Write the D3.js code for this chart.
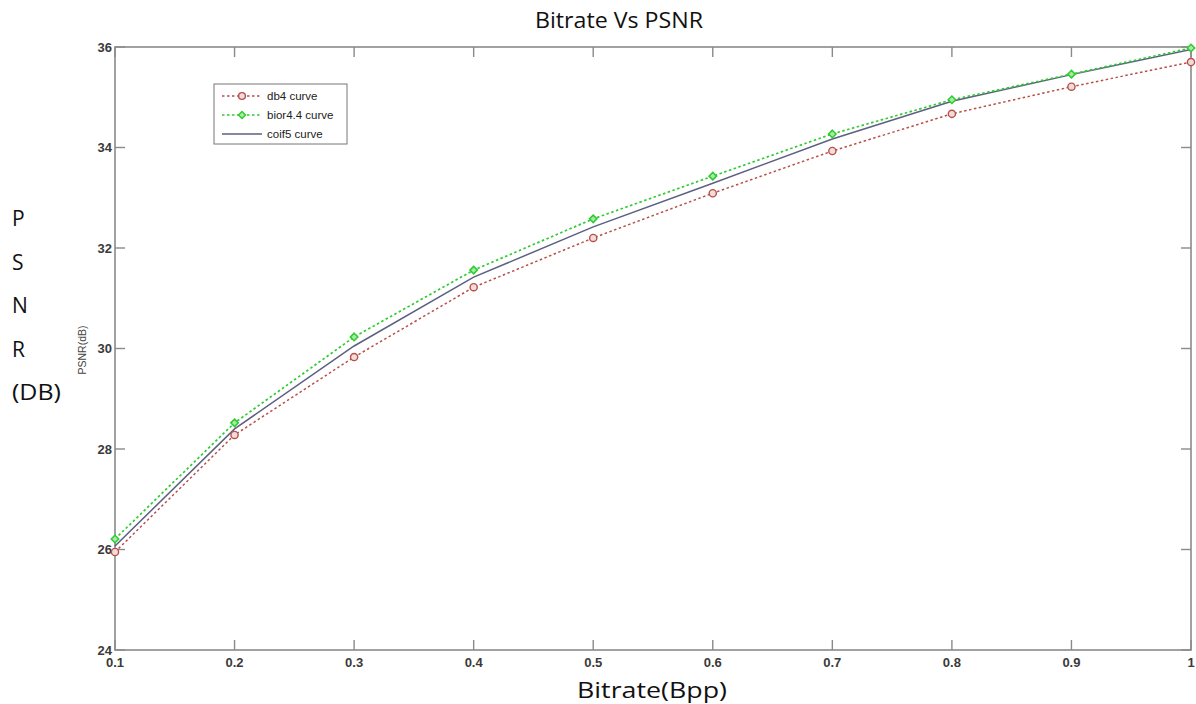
<!DOCTYPE html>
<html>
<head>
<meta charset="utf-8">
<script src="https://cdn.jsdelivr.net/npm/d3@7"></script>
<style>
  body { margin: 0; background: #fff; }
  svg { display: block; }
  .tick-label { font-family: "Liberation Sans", Arial, sans-serif; font-size: 13px; font-weight: bold; fill: #3a3a3a; }
  .big { font-family: "Open Sans", "Noto Sans", sans-serif; font-size: 21px; fill: #111; }
</style>
</head>
<body>
<div id="chart"></div>
<script>
// Bitrate vs PSNR for three wavelets
const bitrates = [0.1, 0.2, 0.3, 0.4, 0.5, 0.6, 0.7, 0.8, 0.9, 1.0];
const db4 = [25.95, 28.28, 29.83, 31.22, 32.2, 33.09, 33.93, 34.67, 35.21, 35.7];
const bior44 = [26.21, 28.52, 30.23, 31.56, 32.58, 33.43, 34.27, 34.95, 35.46, 35.98];
const coif5 = [26.07, 28.4, 30.05, 31.42, 32.42, 33.29, 34.17, 34.92, 35.45, 35.95];
const xTicks = [0.1, 0.2, 0.3, 0.4, 0.5, 0.6, 0.7, 0.8, 0.9, 1];
const yTicks = [24, 26, 28, 30, 32, 34, 36];
const seriesNames = ["db4 curve", "bior4.4 curve", "coif5 curve"];

const W = 1196, H = 704;
const plotLeft = 115, plotRight = 1191, plotTop = 47, plotBottom = 650;

const svg = d3.select("#chart").append("svg")
    .attr("width", W).attr("height", H);

const x = d3.scaleLinear().domain([0.1, 1]).range([plotLeft, plotRight]);
const y = d3.scaleLinear().domain([24, 36]).range([plotBottom, plotTop]);

const axisColor = "#8a8a8a";
const tickLen = 10;

// frame
svg.append("rect")
    .attr("x", plotLeft).attr("y", plotTop)
    .attr("width", plotRight - plotLeft).attr("height", plotBottom - plotTop)
    .attr("fill", "none").attr("stroke", axisColor).attr("stroke-width", 1.6);

// inward ticks on all four sides
xTicks.forEach(t => {
    svg.append("line").attr("x1", x(t)).attr("x2", x(t)).attr("y1", plotBottom).attr("y2", plotBottom - tickLen)
        .attr("stroke", axisColor).attr("stroke-width", 1.4);
    svg.append("line").attr("x1", x(t)).attr("x2", x(t)).attr("y1", plotTop).attr("y2", plotTop + tickLen)
        .attr("stroke", axisColor).attr("stroke-width", 1.4);
    svg.append("text").attr("class", "tick-label")
        .attr("x", x(t)).attr("y", plotBottom + 17)
        .attr("text-anchor", "middle")
        .text(t === 1 ? "1" : d3.format(".1f")(t));
});
yTicks.forEach(t => {
    svg.append("line").attr("x1", plotLeft).attr("x2", plotLeft + tickLen).attr("y1", y(t)).attr("y2", y(t))
        .attr("stroke", axisColor).attr("stroke-width", 1.4);
    svg.append("line").attr("x1", plotRight).attr("x2", plotRight - tickLen).attr("y1", y(t)).attr("y2", y(t))
        .attr("stroke", axisColor).attr("stroke-width", 1.4);
    svg.append("text").attr("class", "tick-label")
        .attr("x", plotLeft - 3).attr("y", y(t) + 4.5)
        .attr("text-anchor", "end")
        .text(t);
});

// lines
const line = d3.line().x((d, i) => x(bitrates[i])).y(d => y(d));

const redColor = "#b8504a";
const greenColor = "#2ecc2e";
const blueColor = "#5c5f80";

svg.append("path").datum(coif5).attr("d", line)
    .attr("fill", "none").attr("stroke", blueColor).attr("stroke-width", 1.5);
svg.append("path").datum(db4).attr("d", line)
    .attr("fill", "none").attr("stroke", redColor).attr("stroke-width", 1.5)
    .attr("stroke-dasharray", "2.5,2.5");
svg.append("path").datum(bior44).attr("d", line)
    .attr("fill", "none").attr("stroke", greenColor).attr("stroke-width", 1.7)
    .attr("stroke-dasharray", "2.5,2.5");

// markers
svg.selectAll(".m-red").data(db4).enter().append("circle")
    .attr("cx", (d, i) => x(bitrates[i])).attr("cy", d => y(d)).attr("r", 3.6)
    .attr("fill", "#f1dcda").attr("stroke", redColor).attr("stroke-width", 1.4);

const diamond = d3.symbol().type(d3.symbolDiamond2).size(36);
svg.selectAll(".m-green").data(bior44).enter().append("path")
    .attr("d", diamond)
    .attr("transform", (d, i) => `translate(${x(bitrates[i])},${y(d)})`)
    .attr("fill", "#a8e8a8").attr("stroke", greenColor).attr("stroke-width", 1.5);

// legend
const lg = svg.append("g").attr("transform", "translate(214,84)");
lg.append("rect").attr("width", 133).attr("height", 60)
    .attr("fill", "#fff").attr("stroke", "#777").attr("stroke-width", 1);
const legendRows = [
    { name: seriesNames[0], color: redColor, dash: "2.5,2.5", marker: "circle" },
    { name: seriesNames[1], color: greenColor, dash: "2.5,2.5", marker: "diamond" },
    { name: seriesNames[2], color: blueColor, dash: null, marker: null }
];
legendRows.forEach((r, i) => {
    const yy = 12 + i * 19;
    lg.append("line").attr("x1", 8).attr("x2", 48).attr("y1", yy).attr("y2", yy)
        .attr("stroke", r.color).attr("stroke-width", 1.5)
        .attr("stroke-dasharray", r.dash);
    if (r.marker === "circle") {
        lg.append("circle").attr("cx", 28).attr("cy", yy).attr("r", 3.4)
            .attr("fill", "#f1dcda").attr("stroke", r.color).attr("stroke-width", 1.4);
    } else if (r.marker === "diamond") {
        lg.append("path").attr("d", d3.symbol().type(d3.symbolDiamond2).size(32))
            .attr("transform", `translate(28,${yy})`)
            .attr("fill", "#a8e8a8").attr("stroke", r.color).attr("stroke-width", 1.4);
    }
    lg.append("text").attr("x", 53).attr("y", yy + 4)
        .style("font-family", "'Liberation Sans', Arial, sans-serif")
        .style("font-size", "11.5px").style("fill", "#222")
        .text(r.name);
});

// title
svg.append("text").attr("class", "big")
    .attr("x", 535).attr("y", 28)
    .attr("textLength", 168).attr("lengthAdjust", "spacingAndGlyphs")
    .text("Bitrate Vs PSNR");

// x label
svg.append("text").attr("class", "big")
    .attr("x", 577).attr("y", 698)
    .attr("textLength", 150).attr("lengthAdjust", "spacingAndGlyphs")
    .text("Bitrate(Bpp)");

// inner y label
svg.append("text")
    .attr("transform", `translate(86,350) rotate(-90)`)
    .attr("text-anchor", "middle")
    .style("font-family", "'Liberation Sans', Arial, sans-serif")
    .style("font-size", "10.5px").style("fill", "#444")
    .text("PSNR(dB)");

// outer stacked y label
const outerLabel = ["P", "S", "N", "R", "(DB)"];
outerLabel.forEach((s, i) => {
    const t = svg.append("text").attr("class", "big")
        .attr("x", 12).attr("y", 226 + i * 43.5)
        .text(s);
    if (s.length > 1) t.attr("textLength", 49).attr("lengthAdjust", "spacingAndGlyphs");
});
</script>
</body>
</html>
